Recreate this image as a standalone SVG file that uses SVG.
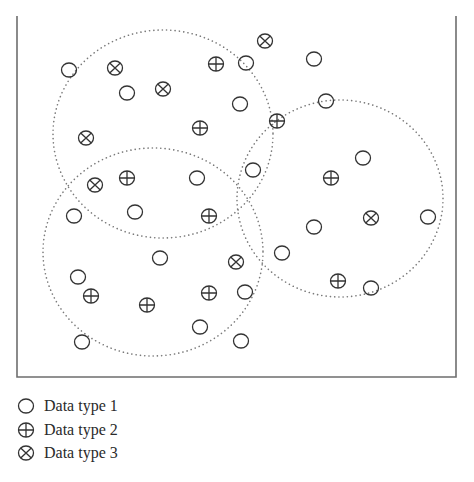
<svg xmlns="http://www.w3.org/2000/svg" xmlns:xlink="http://www.w3.org/1999/xlink" width="474" height="482" viewBox="0 0 474 482">
<style>
.frame{fill:none;stroke:#6e6e6e;stroke-width:1.6}
.clu{fill:none;stroke:#7a7a7a;stroke-width:1.6;stroke-dasharray:0.1 4.2;stroke-linecap:round}
.sym{fill:none;stroke:#333;stroke-width:1.3}
.lbl{font-family:"Liberation Serif","Times New Roman",serif;font-size:16px;fill:#2a2a2a}
</style>
<defs>
<g id="t1"><ellipse class="sym" cx="0" cy="0" rx="7.5" ry="7"/></g>
<g id="t2"><ellipse class="sym" cx="0" cy="0" rx="7.5" ry="7"/><path class="sym" d="M-7.5,0H7.5M0,-7V7"/></g>
<g id="t3"><ellipse class="sym" cx="0" cy="0" rx="7.5" ry="7"/><path class="sym" d="M-5.3,-4.95L5.3,4.95M-5.3,4.95L5.3,-4.95"/></g>
</defs>
<rect width="474" height="482" fill="#fff"/>
<path class="frame" d="M17,16V377H456V16"/>
<g id="connectors">
<ellipse id="cluster-a" class="clu" cx="163" cy="134" rx="110" ry="104"/>
<ellipse id="cluster-b" class="clu" cx="153" cy="252" rx="110" ry="104"/>
<ellipse id="cluster-c" class="clu" cx="340" cy="198.5" rx="103" ry="98.5"/>
</g>
<g id="type1-points">
<g id="p1-1"><use xlink:href="#t1" x="69" y="70"/></g>
<g id="p1-2"><use xlink:href="#t1" x="127" y="93"/></g>
<g id="p1-3"><use xlink:href="#t1" x="240" y="104"/></g>
<g id="p1-4"><use xlink:href="#t1" x="246" y="63"/></g>
<g id="p1-5"><use xlink:href="#t1" x="314" y="59"/></g>
<g id="p1-6"><use xlink:href="#t1" x="326" y="101"/></g>
<g id="p1-7"><use xlink:href="#t1" x="253" y="170"/></g>
<g id="p1-8"><use xlink:href="#t1" x="363" y="158"/></g>
<g id="p1-9"><use xlink:href="#t1" x="197" y="178"/></g>
<g id="p1-10"><use xlink:href="#t1" x="74" y="216"/></g>
<g id="p1-11"><use xlink:href="#t1" x="135" y="212"/></g>
<g id="p1-12"><use xlink:href="#t1" x="160" y="258"/></g>
<g id="p1-13"><use xlink:href="#t1" x="78" y="277"/></g>
<g id="p1-14"><use xlink:href="#t1" x="200" y="327"/></g>
<g id="p1-15"><use xlink:href="#t1" x="82" y="342"/></g>
<g id="p1-16"><use xlink:href="#t1" x="245" y="292"/></g>
<g id="p1-17"><use xlink:href="#t1" x="241" y="341"/></g>
<g id="p1-18"><use xlink:href="#t1" x="314" y="227"/></g>
<g id="p1-19"><use xlink:href="#t1" x="282" y="253"/></g>
<g id="p1-20"><use xlink:href="#t1" x="428" y="217"/></g>
<g id="p1-21"><use xlink:href="#t1" x="371" y="288"/></g>
</g>
<g id="type2-points">
<g id="p2-1"><use xlink:href="#t2" x="216" y="64"/></g>
<g id="p2-2"><use xlink:href="#t2" x="200" y="128"/></g>
<g id="p2-3"><use xlink:href="#t2" x="277" y="121"/></g>
<g id="p2-4"><use xlink:href="#t2" x="127" y="178"/></g>
<g id="p2-5"><use xlink:href="#t2" x="209" y="216"/></g>
<g id="p2-6"><use xlink:href="#t2" x="331" y="178"/></g>
<g id="p2-7"><use xlink:href="#t2" x="91" y="296"/></g>
<g id="p2-8"><use xlink:href="#t2" x="147" y="305"/></g>
<g id="p2-9"><use xlink:href="#t2" x="209" y="293"/></g>
<g id="p2-10"><use xlink:href="#t2" x="338" y="281"/></g>
</g>
<g id="type3-points">
<g id="p3-1"><use xlink:href="#t3" x="115" y="68"/></g>
<g id="p3-2"><use xlink:href="#t3" x="163" y="89"/></g>
<g id="p3-3"><use xlink:href="#t3" x="86" y="138"/></g>
<g id="p3-4"><use xlink:href="#t3" x="265" y="41"/></g>
<g id="p3-5"><use xlink:href="#t3" x="95" y="185"/></g>
<g id="p3-6"><use xlink:href="#t3" x="236" y="262"/></g>
<g id="p3-7"><use xlink:href="#t3" x="371" y="218"/></g>
</g>
<g id="legend">
<g id="legend-1"><use xlink:href="#t1" x="26" y="406"/><text class="lbl" x="44" y="411">Data type 1</text></g>
<g id="legend-2"><use xlink:href="#t2" x="26" y="430"/><text class="lbl" x="44" y="435">Data type 2</text></g>
<g id="legend-3"><use xlink:href="#t3" x="26" y="453"/><text class="lbl" x="44" y="458">Data type 3</text></g>
</g>
</svg>
